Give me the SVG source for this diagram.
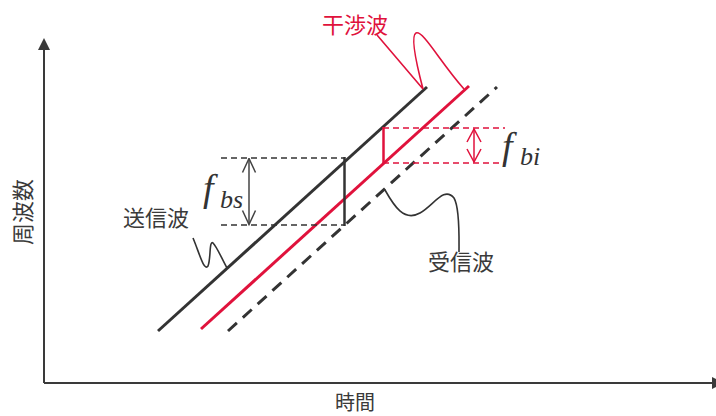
<svg xmlns="http://www.w3.org/2000/svg" width="716" height="416" viewBox="0 0 716 416">
<defs>
<style>
.lbl{font-family:"Noto Sans CJK JP","Noto Sans",sans-serif;font-size:22px;text-anchor:middle}
.dk{fill:#3a3a3a}
.rd{fill:#e0123c}
.math{font-family:"Liberation Serif",serif;font-style:italic;fill:#333}
.axis{stroke:#3a3a3a;stroke-width:2;fill:none}
.tx{stroke:#333;stroke-width:3;fill:none}
.rx{stroke:#e0123c;stroke-width:3;fill:none}
.dx{stroke:#333;stroke-width:3;fill:none;stroke-dasharray:12 8}
.hd{stroke:#333;stroke-width:1.5;fill:none;stroke-dasharray:6 4}
.hr{stroke:#e0123c;stroke-width:1.5;fill:none;stroke-dasharray:6 4}
.call{stroke:#333;stroke-width:1.6;fill:none}
.callr{stroke:#e0123c;stroke-width:1.6;fill:none}
</style>
<marker id="vk" viewBox="-15 -8 16 16" markerWidth="16" markerHeight="16" refX="0" refY="0" orient="auto-start-reverse" markerUnits="userSpaceOnUse">
<path d="M-14,-6.5 L0,0 L-14,6.5" fill="none" stroke="#444" stroke-width="1.5"/>
</marker>
<marker id="vr" viewBox="-15 -8 16 16" markerWidth="16" markerHeight="16" refX="0" refY="0" orient="auto-start-reverse" markerUnits="userSpaceOnUse">
<path d="M-13,-7 L0,0 L-13,7" fill="none" stroke="#e0123c" stroke-width="1.5"/>
</marker>
</defs>
<rect width="716" height="416" fill="#fff"/>

<g id="axes">
<line class="axis" x1="44" y1="383" x2="44" y2="50"/>
<polygon points="44,38 38,50 50,50" fill="#3a3a3a"/>
<line class="axis" x1="44" y1="383" x2="712" y2="383"/>
<polygon points="724,383 712,377 712,389" fill="#3a3a3a"/>
<text class="lbl dk" x="355" y="410" style="font-size:20px">時間</text>
<text class="lbl dk" transform="translate(31,212) rotate(-90)">周波数</text>
</g>

<g id="transmit">
<line class="tx" x1="158" y1="331" x2="427" y2="87"/>
</g>
<g id="interference">
<line class="rx" x1="201" y1="329" x2="469" y2="86"/>
</g>
<g id="receive">
<line class="dx" x1="228" y1="331" x2="497" y2="87"/>
</g>

<g id="fbs">
<line class="hd" x1="221" y1="158" x2="345" y2="158"/>
<line class="hd" x1="221" y1="225" x2="345" y2="225"/>
<line x1="344.5" y1="157" x2="344.5" y2="226" stroke="#333" stroke-width="2.5"/>
<line x1="249" y1="158.5" x2="249" y2="224.5" stroke="#444" stroke-width="1.5" marker-start="url(#vk)" marker-end="url(#vk)"/>
<text class="math" x="203" y="201" font-size="38">f</text>
<text class="math" x="220" y="208" font-size="26">bs</text>
</g>

<g id="fbi">
<line class="hr" x1="383" y1="128" x2="505" y2="128"/>
<line class="hr" x1="383" y1="163" x2="505" y2="163"/>
<line x1="383.5" y1="127" x2="383.5" y2="164" stroke="#e0123c" stroke-width="2.5"/>
<line x1="474" y1="129" x2="474" y2="162" stroke="#e0123c" stroke-width="1.5" marker-start="url(#vr)" marker-end="url(#vr)"/>
<text class="math" x="502" y="159" font-size="38">f</text>
<text class="math" x="520" y="165" font-size="26">bi</text>
</g>

<g id="connectors">
<path class="callr" d="M377,35 L423,89 C418,70 410,36 416,33 C423,30 440,62 464,89"/>
<path class="call" d="M193,238 C199,252 204,272 208,266 C211,259 209,240 213,243 C217,247 222,259 227,268"/>
<path class="call" d="M385,190 C394,206 404,222 420,213 C434,205 444,186 454,198 C460,208 459,238 459,252"/>
</g>

<g id="labels">
<text class="lbl rd" x="355" y="33">干渉波</text>
<text class="lbl dk" x="156" y="226">送信波</text>
<text class="lbl dk" x="461" y="270">受信波</text>
</g>
</svg>
